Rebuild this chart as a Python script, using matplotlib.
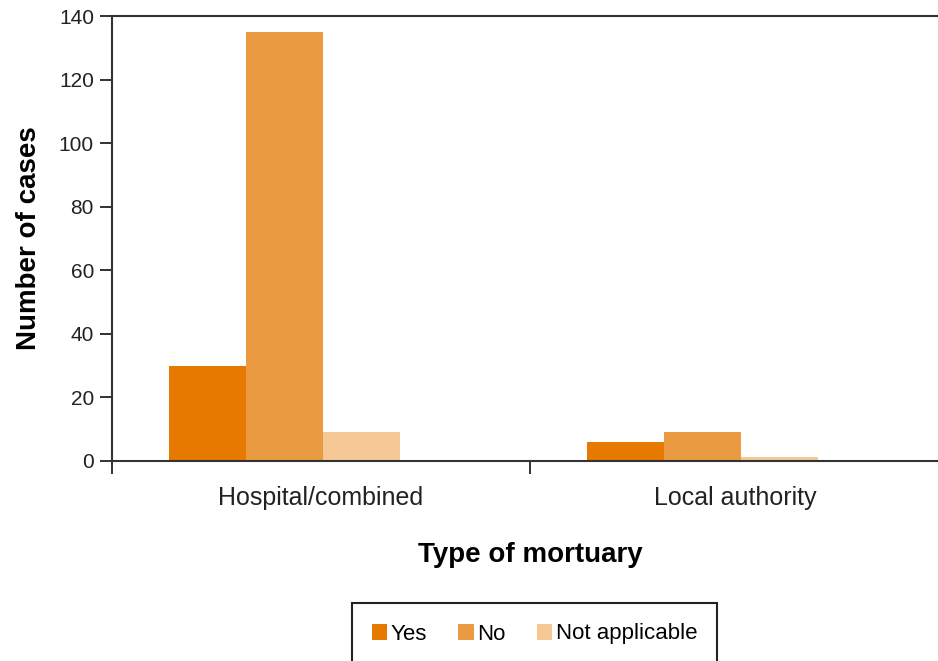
import matplotlib
matplotlib.use("Agg")
import matplotlib.pyplot as plt
from matplotlib.patches import Rectangle
import numpy as np

categories = ["Hospital/combined", "Local authority"]
series_names = ["Yes", "No", "Not applicable"]
yes_vals = [30, 6]
no_vals = [135, 9]
na_vals = [9, 1.4]
colors = ["#E67A00", "#EA9A40", "#F5C896"]
y_ticks = [0, 20, 40, 60, 80, 100, 120, 140]

plt.rcParams['font.family'] = ['Liberation Sans', 'DejaVu Sans']

fig = plt.figure(figsize=(9.38, 6.61), dpi=100)
ax = fig.add_axes([112/938, 1-461/661, 836/938, 445/661])

x = np.arange(len(categories))
width = 0.184
start = 0.136
for i, (vals, name) in enumerate(zip([yes_vals, no_vals, na_vals], series_names)):
    ax.bar(x + start + i*width, vals, width=width, align='edge', color=colors[i], label=name,
           edgecolor='none')

ax.set_xlim(0, 2)
ax.set_ylim(0, 140)
ax.set_yticks(y_ticks)
ax.set_xticks([0, 1, 2])
ax.set_xticklabels([])
ax.set_xticks([0.498, 1.49], minor=True)
ax.set_xticklabels(categories, minor=True, fontsize=18, color='#222222')
ax.tick_params(axis='x', which='minor', length=0, pad=18)
ax.tick_params(axis='x', which='major', length=9, width=1.3, color='#222222', direction='out')
ax.tick_params(axis='y', length=9, width=1.3, color='#222222', direction='out', labelsize=15,
               labelcolor='#222222', pad=4)
for s in ['left', 'bottom', 'top']:
    ax.spines[s].set_linewidth(1.5)
    ax.spines[s].set_color('#333333')
ax.spines['right'].set_visible(False)

ax.set_ylabel("Number of cases", fontsize=20, fontweight='bold', labelpad=12)
ax.set_xlabel("Type of mortuary", fontsize=20, fontweight='bold', labelpad=23)

fig.patches.append(Rectangle((352/938, -0.05), (717-352)/938, 0.05 + 1-603/661,
                             transform=fig.transFigure, fill=False, edgecolor='#222222', linewidth=1.5))
handles, labels = ax.get_legend_handles_labels()
fig.legend(handles, labels, loc='center', bbox_to_anchor=(534.5/938, 1-634/661), ncol=3,
           frameon=False, fontsize=16, handlelength=0.7, handleheight=0.7, handletextpad=0.15,
           columnspacing=1.4)

fig.savefig("out.png", dpi=100)
